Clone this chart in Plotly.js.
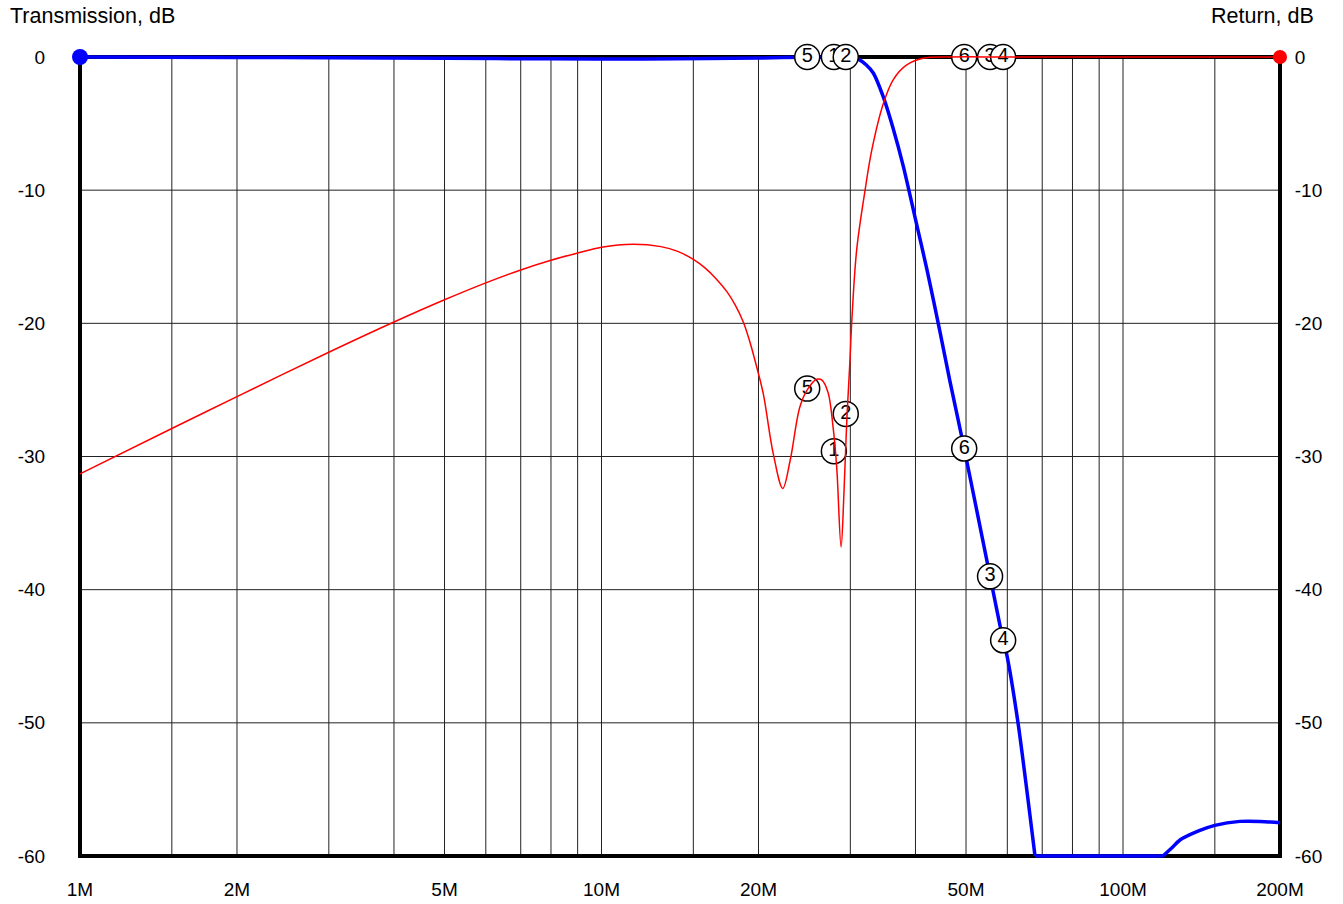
<!DOCTYPE html>
<html><head><meta charset="utf-8">
<script src="https://cdn.plot.ly/plotly-3.0.1.min.js"></script>
<style>html,body{margin:0;padding:0;background:#fff}#chart{width:1343px;height:904px}</style>
</head><body><div id="chart"></div>
<script>
// Transmission (blue, left axis): pass band + stop-band skirt, clipped at -60 dB
const transFreqMHz = [1, 2, 3, 5, 8, 12, 16, 20, 24.8, 29.4, 30.2, 31.2, 32.2, 33.2, 34.7, 36.2, 37.9, 39.9, 42.1, 44.6, 46.6, 49.6, 55.6, 58.9, 59.8, 62.9, 67.8];
const transDb     = [0, -0.03, -0.06, -0.1, -0.14, -0.15, -0.12, -0.08, -0.01, 0, -0.05, -0.2, -0.6, -1.2, -3.0, -5.3, -8.2, -12.0, -16.0, -20.7, -24.4, -29.4, -39.0, -43.8, -44.8, -50.0, -60];
const transFloorFreqMHz = [67.8, 80, 100, 119.3];
const transFloorDb      = [-60, -60, -60, -60];
const transHighFreqMHz = [119.3, 124.0, 128.6, 140, 150, 167.6, 183.1, 200];
const transHighDb      = [-60, -59.4, -58.8, -58.1, -57.7, -57.4, -57.4, -57.5];
// Return (red, right axis)
const retFreqMHz = [1, 1.5, 2, 3, 4, 5, 6, 7, 8, 9, 10, 11.5, 13, 14, 15, 15.79, 16.63, 17.41, 18.04, 18.70, 19.28, 19.85, 20.43, 21.35, 22.26, 23.0, 24.0, 24.8, 25.86, 26.44, 27.19, 27.8, 28.25, 28.8, 29.17, 29.53, 29.96, 30.18, 30.85, 32.02, 32.98, 34.71, 36.27, 38.48, 41.36, 46.6, 60, 100, 200];
const retDb     = [-31.3, -27.9, -25.5, -22.17, -19.9, -18.23, -16.96, -15.99, -15.26, -14.72, -14.28, -14.06, -14.24, -14.6, -15.2, -15.84, -16.7, -17.64, -18.62, -19.9, -21.47, -23.3, -25.3, -29.8, -32.4, -30.3, -26.3, -25.0, -24.2, -24.25, -25.2, -27.8, -30.8, -36.8, -32.7, -27.4, -22.7, -20.0, -14.5, -10.0, -7.0, -3.5, -1.7, -0.6, -0.1, 0, 0, 0, 0];
// Numbered markers
const markerLabels  = ['5', '1', '2', '6', '3', '4'];
const markerFreqMHz = [24.8, 27.9, 29.4, 49.6, 55.6, 58.9];
const markerTransDb = [0, 0, 0, -29.4, -39.0, -43.8];
const markerRetDb   = [-24.9, -29.6, -26.8, 0, 0, 0];
// Grid and ticks
const gridFreqMHz = [1.5, 2, 3, 4, 5, 6, 7, 8, 9, 10, 15, 20, 30, 40, 50, 60, 70, 80, 90, 100, 150];
const gridDb = [-10, -20, -30, -40, -50];
const xMin = 1, xMax = 200, yMin = -60, yMax = 0;
const xTickVals = [1, 2, 5, 10, 20, 50, 100, 200];
const xTickText = ['1M', '2M', '5M', '10M', '20M', '50M', '100M', '200M'];
const yTickVals = [0, -10, -20, -30, -40, -50, -60];
const yTickText = ['0', '-10', '-20', '-30', '-40', '-50', '-60'];

const FONT = 'Liberation Sans, Arial, Helvetica, sans-serif';
const blueLine = {color: '#0000ff', width: 3.5};

const traces = [
  {x: retFreqMHz, y: retDb, yaxis: 'y2', mode: 'lines', line: {color: '#ff0000', width: 1.5, shape: 'spline', smoothing: 1.0}, hoverinfo: 'skip'},
  {x: transFreqMHz, y: transDb, mode: 'lines', line: Object.assign({shape: 'spline', smoothing: 0.7}, blueLine), hoverinfo: 'skip'},
  {x: transFloorFreqMHz, y: transFloorDb, mode: 'lines', line: blueLine, hoverinfo: 'skip'},
  {x: transHighFreqMHz, y: transHighDb, mode: 'lines', line: Object.assign({shape: 'spline', smoothing: 0.8}, blueLine), hoverinfo: 'skip'},
  {x: [xMin], y: [yMax], mode: 'markers', marker: {color: '#0000ff', size: 16}, cliponaxis: false, hoverinfo: 'skip'},
  {x: [xMax], y: [yMax], yaxis: 'y2', mode: 'markers', marker: {color: '#ff0000', size: 14}, cliponaxis: false, hoverinfo: 'skip'}
];
markerLabels.forEach((lab, i) => {
  traces.push({
    x: [markerFreqMHz[i], markerFreqMHz[i]],
    y: [markerTransDb[i], markerRetDb[i]],
    mode: 'markers+text', text: [lab, lab], textposition: 'middle center',
    textfont: {family: FONT, size: 20, color: '#000'},
    marker: {symbol: 'circle', size: 25, color: '#fff', line: {color: '#000', width: 1.5}},
    cliponaxis: false, hoverinfo: 'skip'
  });
});

const shapes = [];
gridFreqMHz.forEach(f => shapes.push({type: 'line', xref: 'x', yref: 'y', x0: f, x1: f, y0: yMin, y1: yMax, layer: 'below', line: {color: '#222', width: 1}}));
gridDb.forEach(d => shapes.push({type: 'line', xref: 'x', yref: 'y', x0: xMin, x1: xMax, y0: d, y1: d, layer: 'below', line: {color: '#222', width: 1}}));
shapes.push({type: 'rect', xref: 'x', yref: 'y', x0: xMin, x1: xMax, y0: yMin, y1: yMax, layer: 'below', line: {color: '#000', width: 4}});

const yPad = 0.6007, xPad = 0.01534;
const yCommon = {range: [yMin - yPad, yMax + yPad], tickvals: yTickVals, ticktext: yTickText, ticks: 'outside', tickcolor: 'rgba(0,0,0,0)',
  showgrid: false, zeroline: false, showline: false, fixedrange: true, tickfont: {family: FONT, size: 19, color: '#000'}};

const layout = {
  width: 1343, height: 904,
  margin: {l: 72, r: 55, t: 49, b: 40},
  paper_bgcolor: '#fff', plot_bgcolor: '#fff',
  showlegend: false,
  xaxis: {type: 'log', range: [Math.log10(xMin) - xPad, Math.log10(xMax) + xPad], tickvals: xTickVals, ticktext: xTickText,
    ticks: 'outside', ticklen: 8, tickcolor: 'rgba(0,0,0,0)', showgrid: false, zeroline: false, showline: false, fixedrange: true,
    tickfont: {family: FONT, size: 19, color: '#000'}},
  yaxis: Object.assign({}, yCommon, {ticklen: 22, side: 'left'}),
  yaxis2: Object.assign({}, yCommon, {ticklen: 2, side: 'right', overlaying: 'y'}),
  shapes: shapes,
  annotations: [
    {text: 'Transmission, dB', xref: 'paper', yref: 'paper', x: -0.05263, y: 1.0405, xanchor: 'left', yanchor: 'middle', showarrow: false, font: {family: FONT, size: 21.5, color: '#000'}},
    {text: 'Return, dB', xref: 'paper', yref: 'paper', x: 1.02303, y: 1.0405, xanchor: 'right', yanchor: 'middle', showarrow: false, font: {family: FONT, size: 21.5, color: '#000'}}
  ]
};

Plotly.newPlot('chart', traces, layout, {displayModeBar: false, staticPlot: true});
</script>
</body></html>
